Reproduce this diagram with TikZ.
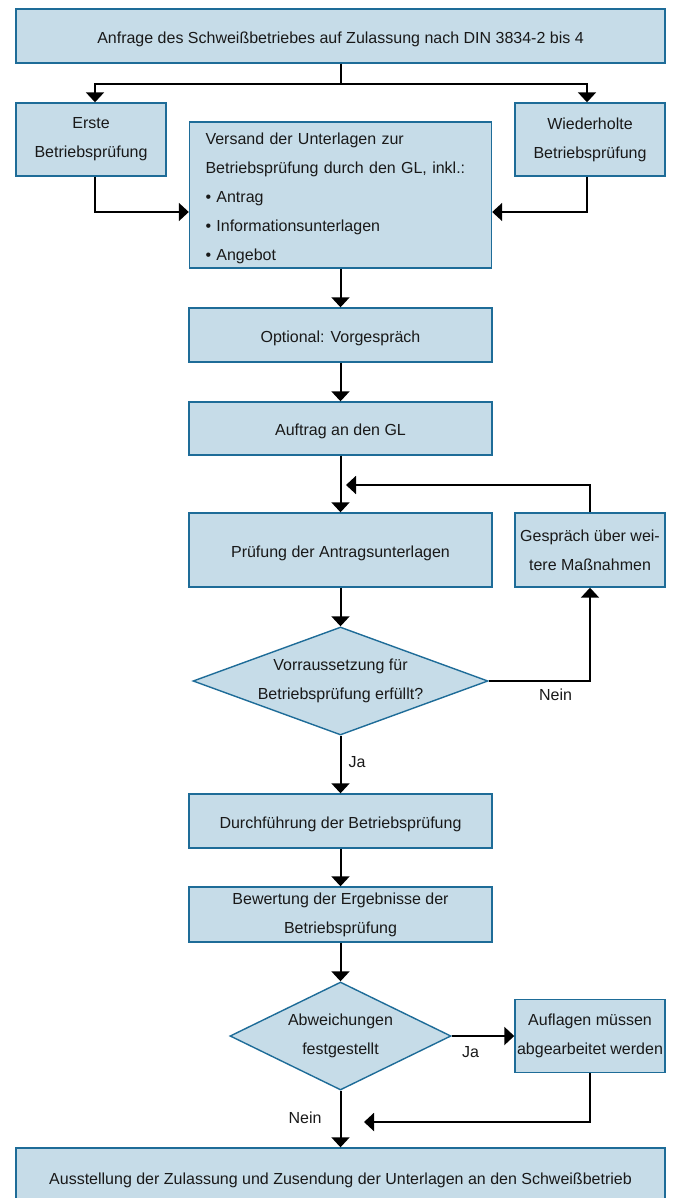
\documentclass[tikz,border=0pt]{standalone}
\usepackage{fontspec}
\setmainfont{Liberation Sans}
\usetikzlibrary{shapes.geometric,arrows.meta}
\definecolor{boxfill}{RGB}{198,220,232}
\definecolor{boxline}{RGB}{30,108,152}

\begin{document}
\begin{tikzpicture}[x=1pt,y=-1pt,font=\fontsize{16}{29}\selectfont,
  box/.style={draw=boxline,fill=boxfill,line width=1.4pt,align=center,inner sep=0pt,text=black!90,
    execute at begin node=\rule{0pt}{18pt}},
  rhomb/.style={diamond,draw=boxline,fill=boxfill,line width=1.4pt,align=center,inner sep=0pt,text=black!90},
  arr/.style={line width=2pt,-{Triangle[width=18pt,length=10pt]}},
  lbl/.style={inner sep=0pt,text=black!90}]
      \useasboundingbox (0,0) rectangle (674,1198);
      \clip (0,0) rectangle (674,1198);
      \fill[white] (0,0) rectangle (674,1198);
      \node[box,minimum width=649pt,minimum height=54pt] (anfrage) at (340.5,36) {Anfrage des Schweißbetriebes auf Zulassung nach DIN 3834-2 bis 4};
      \node[box,minimum width=150pt,minimum height=73pt] (erste) at (91,139.5) {Erste\\Betriebsprüfung};
      \node[box,minimum width=150pt,minimum height=73pt] (wiederholt) at (590,139.5) {Wiederholte\\Betriebsprüfung};
      \node[box,align=left,text width=270pt,inner xsep=16pt,minimum height=146pt] (versand) at (340.5,195) {Versand der Unterlagen zur\\Betriebsprüfung durch den GL, inkl.:\\• Antrag\\• Informationsunterlagen\\• Angebot};
      \node[box,minimum width=303pt,minimum height=54pt] (optional) at (340.5,335) {Optional: Vorgespräch};
      \node[box,minimum width=303pt,minimum height=53pt] (auftrag) at (340.5,428.5) {Auftrag an den GL};
      \node[box,minimum width=303pt,minimum height=74pt] (pruefung) at (340.5,550) {Prüfung der Antragsunterlagen};
      \node[box,minimum width=150pt,minimum height=74pt] (gespraech) at (590,550) {Gespräch über wei-\\tere Maßnahmen};
      \node[rhomb,aspect=2.73,minimum width=295pt,minimum height=108pt] (vorr) at (340.5,681) {Vorraussetzung für\\Betriebsprüfung erfüllt?};
      \node[box,minimum width=303pt,minimum height=54pt] (durch) at (340.5,821) {Durchführung der Betriebsprüfung};
      \node[box,minimum width=303pt,minimum height=55pt] (bewert) at (340.5,914.5) {Bewertung der Ergebnisse der\\Betriebsprüfung};
      \node[rhomb,aspect=2.05,minimum width=221pt,minimum height=108pt,execute at begin node=\rule{0pt}{18pt}] (abw) at (340.5,1036) {Abweichungen\\festgestellt};
      \node[box,minimum width=150pt,minimum height=73pt] (auflagen) at (590,1036) {Auflagen müssen\\abgearbeitet werden};
      \node[box,minimum width=649pt,minimum height=58pt] (ausstellung) at (340.5,1177) {Ausstellung der Zulassung und Zusendung der Unterlagen an den Schweißbetrieb};
      \coordinate (rueck) at (346,485);
      \coordinate (zurueck) at (364,1122);
      \draw[arr] (anfrage.south) -- ++(0,20) -| ([xshift=4pt]erste.north);
      \draw[arr] (anfrage.south) -- ++(0,20) -| ([xshift=-3pt]wiederholt.north);
      \draw[arr] ([xshift=4pt]erste.south) |- ([yshift=-17pt]versand.west);
      \draw[arr] ([xshift=-3pt]wiederholt.south) |- ([yshift=-17pt]versand.east);
      \draw[arr] (versand.south) -- (optional.north);
      \draw[arr] (optional.south) -- (auftrag.north);
      \draw[arr] (auftrag.south) -- (pruefung.north);
      \draw[arr] (gespraech.north) |- (rueck);
      \draw[arr] (pruefung.south) -- (vorr.north);
      \draw[arr] (vorr.east) -| node[lbl,pos=0.33,yshift=-14pt] {Nein} (gespraech.south);
      \draw[arr] (vorr.south) -- node[lbl,pos=0.45,right=7pt] {Ja} (durch.north);
      \draw[arr] (durch.south) -- (bewert.north);
      \draw[arr] (bewert.south) -- (abw.north);
      \draw[arr] (abw.east) -- node[lbl,pos=0.3,yshift=-16pt] {Ja} (auflagen.west);
      \draw[arr] (auflagen.south) |- (zurueck);
      \draw[arr] (abw.south) -- node[lbl,pos=0.48,left=18pt] {Nein} (ausstellung.north);
    \end{tikzpicture}
\end{document}
